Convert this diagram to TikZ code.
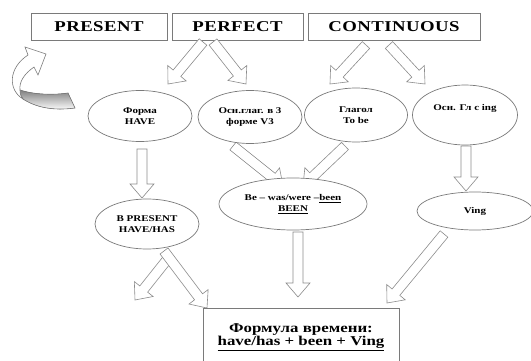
\documentclass[tikz,border=0pt]{standalone}
\usepackage{fontspec}
\setmainfont{Liberation Serif}[FakeStretch=1.25]
\usetikzlibrary{shapes.geometric,calc}
\definecolor{edge}{HTML}{7A7A7A}
\definecolor{arr}{HTML}{8C8C8C}
\definecolor{shade}{HTML}{C8C8C8}
\tikzset{
  topbox/.style={draw=edge, line width=0.8pt, minimum width=#1, minimum height=27pt, inner sep=0pt,
    font=\bfseries\fontsize{15}{16}\selectfont\addfontfeature{LetterSpace=3}},
  oval/.style={ellipse, draw=edge, line width=0.7pt, fill=white, inner sep=0pt, align=center,
    font=\bfseries\fontsize{8.8}{11}\selectfont},
  formbox/.style={draw=edge, line width=1pt, fill=white, minimum width=196pt, minimum height=58pt,
    inner sep=0pt, align=center, font=\bfseries\fontsize{13.5}{13.5}\selectfont},
  barrow/.style={draw=arr, line width=0.6pt, fill=white, line join=miter},
}
\newcommand\blockarrow[2]{%
  \draw[barrow] let \p1=(#1), \p2=(#2), \n1={atan2(\y2-\y1,\x2-\x1)}, \n2={veclen(\x2-\x1,\y2-\y1)} in
    ($(\p1)+(\n1+90:5pt)$)
    -- ($(\p1)+(\n1:{(\n2-14)*1pt})+(\n1+90:5pt)$)
    -- ($(\p1)+(\n1:{(\n2-14)*1pt})+(\n1+90:12pt)$)
    -- (\p2)
    -- ($(\p1)+(\n1:{(\n2-14)*1pt})+(\n1-90:12pt)$)
    -- ($(\p1)+(\n1:{(\n2-14)*1pt})+(\n1-90:5pt)$)
    -- ($(\p1)+(\n1-90:5pt)$) -- cycle;}
\begin{document}
\begin{tikzpicture}[x=1pt,y=-1pt]
\useasboundingbox (0,0) rectangle (531,361);
\fill[white] (0,0) rectangle (531,361);
% top boxes
\node[topbox=136pt] (present) at (99,26.5) {PRESENT};
\node[topbox=131pt] (perfect) at (237.5,26.5) {PERFECT};
\node[topbox=172pt] (contin) at (394,26.5) {CONTINUOUS};
% curved arrow
\fill[shade, draw=edge, line width=0.6pt]
  (20,90) .. controls (35,95) and (55,95) .. (68,93) -- (75,108)
  .. controls (60,110) and (40,110) .. (23,99) .. controls (21,97) and (20,94) .. (20,90) -- cycle;
\draw[fill=white, draw=edge, line width=0.6pt]
  (23,99) .. controls (8,90) and (8,68) .. (28,55) -- (25,47) -- (46,54) -- (38,75) -- (34,67)
  .. controls (24,74) and (19,82) .. (20,90) .. controls (20,94) and (21,97) .. (23,99) -- cycle;
% arrow end points
\coordinate (t1) at (203,42); \coordinate (h1) at (168,84);
\coordinate (t2) at (213,42); \coordinate (h2) at (246,84);
\coordinate (t3) at (366,45); \coordinate (h3) at (330,84);
\coordinate (t4) at (389,45); \coordinate (h4) at (425,84);
\coordinate (t5) at (142,149); \coordinate (h5) at (142,198);
\coordinate (t6) at (233,146); \coordinate (h6) at (283,186);
\coordinate (t7) at (345,146); \coordinate (h7) at (303,186);
\coordinate (t8) at (466,146); \coordinate (h8) at (466,191);
\coordinate (t9) at (170,256); \coordinate (h9) at (135,300);
\coordinate (t10) at (164,251); \coordinate (h10) at (207,308);
\coordinate (t11) at (298,232); \coordinate (h11) at (298,297);
\coordinate (t12) at (444,234); \coordinate (h12) at (387,303);
\foreach \i in {1,...,12}{\blockarrow{t\i}{h\i}}
% ellipses
\node[oval, minimum width=104pt, minimum height=51pt] (forma) at (140,116) {Форма\\HAVE};
\node[oval, minimum width=104pt, minimum height=53pt] (osn) at (250,117) {Осн.глаг. в 3\\форме V3};
\node[oval, minimum width=103pt, minimum height=54pt] (glag) at (356,115) {Глагол\\To be};
\node[oval, minimum width=105pt, minimum height=60pt] (ing) at (465,115) {Осн. Гл с ing\\[4pt]\mbox{}};
\node[oval, minimum width=104pt, minimum height=50pt] (bpres) at (147,224) {В PRESENT\\HAVE/HAS};
\node[oval, minimum width=148pt, minimum height=52pt] (be) at (293,204) {Be -- was/were --\underline{been}\\\underline{BEEN}};
\node[oval, minimum width=116pt, minimum height=38pt] (ving) at (475,211) {Ving};
% formula
\node[formbox] (formula) at (301,337) {Формула времени:\\\underline{have/has + been + Ving}};
\end{tikzpicture}
\end{document}
